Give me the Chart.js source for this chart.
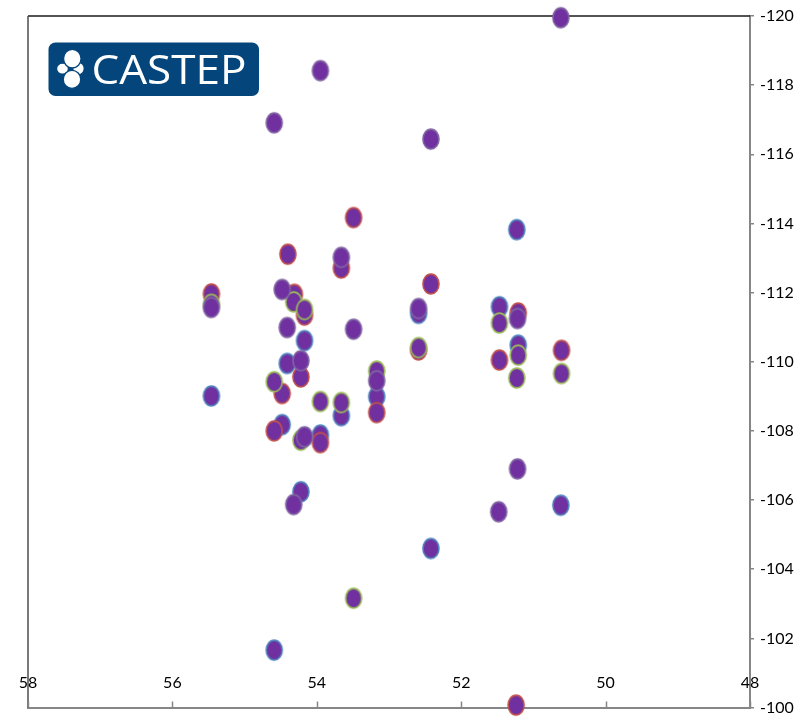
<!DOCTYPE html>
<html>
<head>
<meta charset="utf-8">
<script src="https://cdn.jsdelivr.net/npm/chart.js@4/dist/chart.umd.min.js"></script>
<style>
  html, body { margin: 0; padding: 0; background: #fff; }
  canvas { display: block; }
</style>
</head>
<body>
<canvas id="chart" width="804" height="721"></canvas>
<script>
// Axis tick labels
const xTicks = [58, 56, 54, 52, 50, 48];
const yTicks = [-120, -118, -116, -114, -112, -110, -108, -106, -104, -102, -100];

// Four series of [x, y] pairs
const seriesBlue = [
  [51.23, -113.82], [52.59, -111.40], [51.47, -111.59], [51.21, -110.48],
  [54.17, -110.61], [54.41, -109.95], [55.46, -109.01], [53.66, -108.44],
  [53.17, -108.99], [54.48, -108.18], [53.95, -107.88], [54.22, -106.24],
  [52.42, -104.60], [50.62, -105.85], [54.59, -101.66]
];
const seriesRed = [
  [53.49, -114.17], [54.40, -113.11], [53.66, -112.71], [55.46, -111.96],
  [54.31, -111.95], [54.17, -111.35], [52.42, -112.25], [52.59, -110.34],
  [51.21, -111.41], [51.47, -110.05], [50.61, -110.33], [54.22, -109.56],
  [54.48, -109.08], [53.17, -108.53], [54.59, -108.00], [53.95, -107.66],
  [51.24, -100.07]
];
const seriesGreen = [
  [55.46, -111.66], [54.32, -111.73], [54.17, -111.51], [52.59, -110.41],
  [51.47, -111.12], [51.21, -110.19], [51.23, -109.53], [50.61, -109.66],
  [54.59, -109.42], [53.95, -108.85], [53.66, -108.82], [53.17, -109.73],
  [54.22, -107.73], [53.49, -103.16]
];
const seriesPurple = [
  [50.62, -119.95], [53.95, -118.42], [54.59, -116.91], [52.42, -116.44],
  [53.66, -113.02], [54.48, -112.09], [55.46, -111.57], [52.59, -111.54],
  [51.22, -111.25], [54.41, -110.99], [53.49, -110.94], [54.22, -110.03],
  [53.17, -109.45], [54.17, -107.83], [51.22, -106.90], [51.48, -105.66],
  [54.32, -105.87]
];

const FILL = '#7030a0';
const AXIS_GREY = '#868686';
const LABEL_FONT = '16px Lato, "Open Sans", sans-serif';

// Oval marker: purple body with a coloured rim
function marker(edge) {
  const c = document.createElement('canvas');
  c.width = 20; c.height = 24;
  const g = c.getContext('2d');
  g.beginPath();
  g.ellipse(10, 12, 8.0, 9.9, 0, 0, Math.PI * 2);
  g.fillStyle = FILL;
  g.fill();
  g.lineWidth = 1.6;
  g.strokeStyle = edge;
  g.stroke();
  return c;
}

function toPoints(arr) { return arr.map(p => ({ x: p[0], y: p[1] })); }

function dataset(arr, edge, order) {
  return {
    data: toPoints(arr),
    pointStyle: marker(edge),
    pointRadius: 9,
    pointHoverRadius: 9,
    showLine: false,
    clip: false,
    order: order
  };
}

// Frame lines, inward x ticks and x labels
const framePlugin = {
  id: 'frame',
  beforeDatasetsDraw(chart) {
    const { ctx, chartArea: a, scales: { x } } = chart;
    ctx.save();
    ctx.lineWidth = 1.5;
    ctx.strokeStyle = '#1a1a1a';
    ctx.beginPath();
    ctx.moveTo(a.left, a.top);
    ctx.lineTo(a.right, a.top);
    ctx.stroke();
    ctx.strokeStyle = '#4d4d4d';
    ctx.beginPath();
    ctx.moveTo(a.left, a.top);
    ctx.lineTo(a.left, a.bottom);
    ctx.stroke();
    ctx.strokeStyle = AXIS_GREY;
    ctx.lineWidth = 1.5;
    xTicks.forEach(v => {
      const px = Math.round(x.getPixelForValue(v)) + 0.5;
      ctx.beginPath();
      ctx.moveTo(px, a.bottom - 6);
      ctx.lineTo(px, a.bottom);
      ctx.stroke();
    });
    ctx.fillStyle = '#000';
    ctx.font = LABEL_FONT;
    ctx.textAlign = 'center';
    ctx.textBaseline = 'middle';
    xTicks.forEach(v => {
      ctx.fillText(String(v), x.getPixelForValue(v), a.bottom - 24.5);
    });
    ctx.restore();
  }
};

// CASTEP badge
const logoPlugin = {
  id: 'logo',
  afterDraw(chart) {
    const ctx = chart.ctx;
    ctx.save();
    ctx.fillStyle = '#04467b';
    ctx.beginPath();
    ctx.roundRect(48.5, 42.5, 210.5, 53.5, 7);
    ctx.fill();

    ctx.fillStyle = '#fff';
    ctx.strokeStyle = '#04467b';
    ctx.lineWidth = 1.4;
    const lobes = [
      [62.5, 68.7, 6.0, 5.6],
      [78.5, 68.5, 5.8, 6.2],
      [72.3, 58.6, 8.8, 9.4],
      [72.0, 79.4, 8.8, 9.0]
    ];
    lobes.forEach(l => {
      ctx.beginPath();
      ctx.ellipse(l[0], l[1], l[2], l[3], 0, 0, Math.PI * 2);
      ctx.fill();
      ctx.stroke();
    });

    ctx.font = '40px "Open Sans", Lato, sans-serif';
    ctx.textBaseline = 'alphabetic';
    ctx.textAlign = 'left';
    const w = ctx.measureText('CASTEP').width;
    ctx.translate(91.5, 84);
    ctx.scale(155 / w, 1);
    ctx.fillStyle = '#fff';
    ctx.fillText('CASTEP', 0, 0);
    ctx.restore();
  }
};

new Chart(document.getElementById('chart'), {
  type: 'scatter',
  data: {
    datasets: [
      dataset(seriesBlue, '#4f81bd', 4),
      dataset(seriesRed, '#c0504d', 3),
      dataset(seriesGreen, '#9bbb59', 2),
      dataset(seriesPurple, '#8064a2', 1)
    ]
  },
  options: {
    responsive: false,
    devicePixelRatio: 1,
    animation: false,
    events: [],
    layout: { padding: { left: 28, top: 16, right: 0, bottom: 0 } },
    plugins: { legend: { display: false }, tooltip: { enabled: false } },
    scales: {
      x: {
        type: 'linear',
        position: 'bottom',
        reverse: true,
        min: 48,
        max: 58,
        afterBuildTicks: s => { s.ticks = xTicks.map(v => ({ value: v })); },
        ticks: { display: false },
        grid: { display: false },
        border: { display: true, color: AXIS_GREY, width: 2 },
        afterFit: s => { s.height = 13.5; }
      },
      y: {
        type: 'linear',
        position: 'right',
        reverse: true,
        min: -120,
        max: -100,
        afterBuildTicks: s => { s.ticks = yTicks.map(v => ({ value: v })); },
        ticks: {
          font: { family: 'Lato, "Open Sans", sans-serif', size: 16 },
          color: '#000',
          padding: 6,
          callback: v => String(v)
        },
        grid: { drawOnChartArea: false, drawTicks: true, tickLength: 4, color: AXIS_GREY, lineWidth: 1.5 },
        border: { display: true, color: AXIS_GREY, width: 2 },
        afterFit: s => { s.width = 54; s.paddingTop = 0; s.paddingBottom = 0; }
      }
    }
  },
  plugins: [framePlugin, logoPlugin]
});
</script>
</body>
</html>
